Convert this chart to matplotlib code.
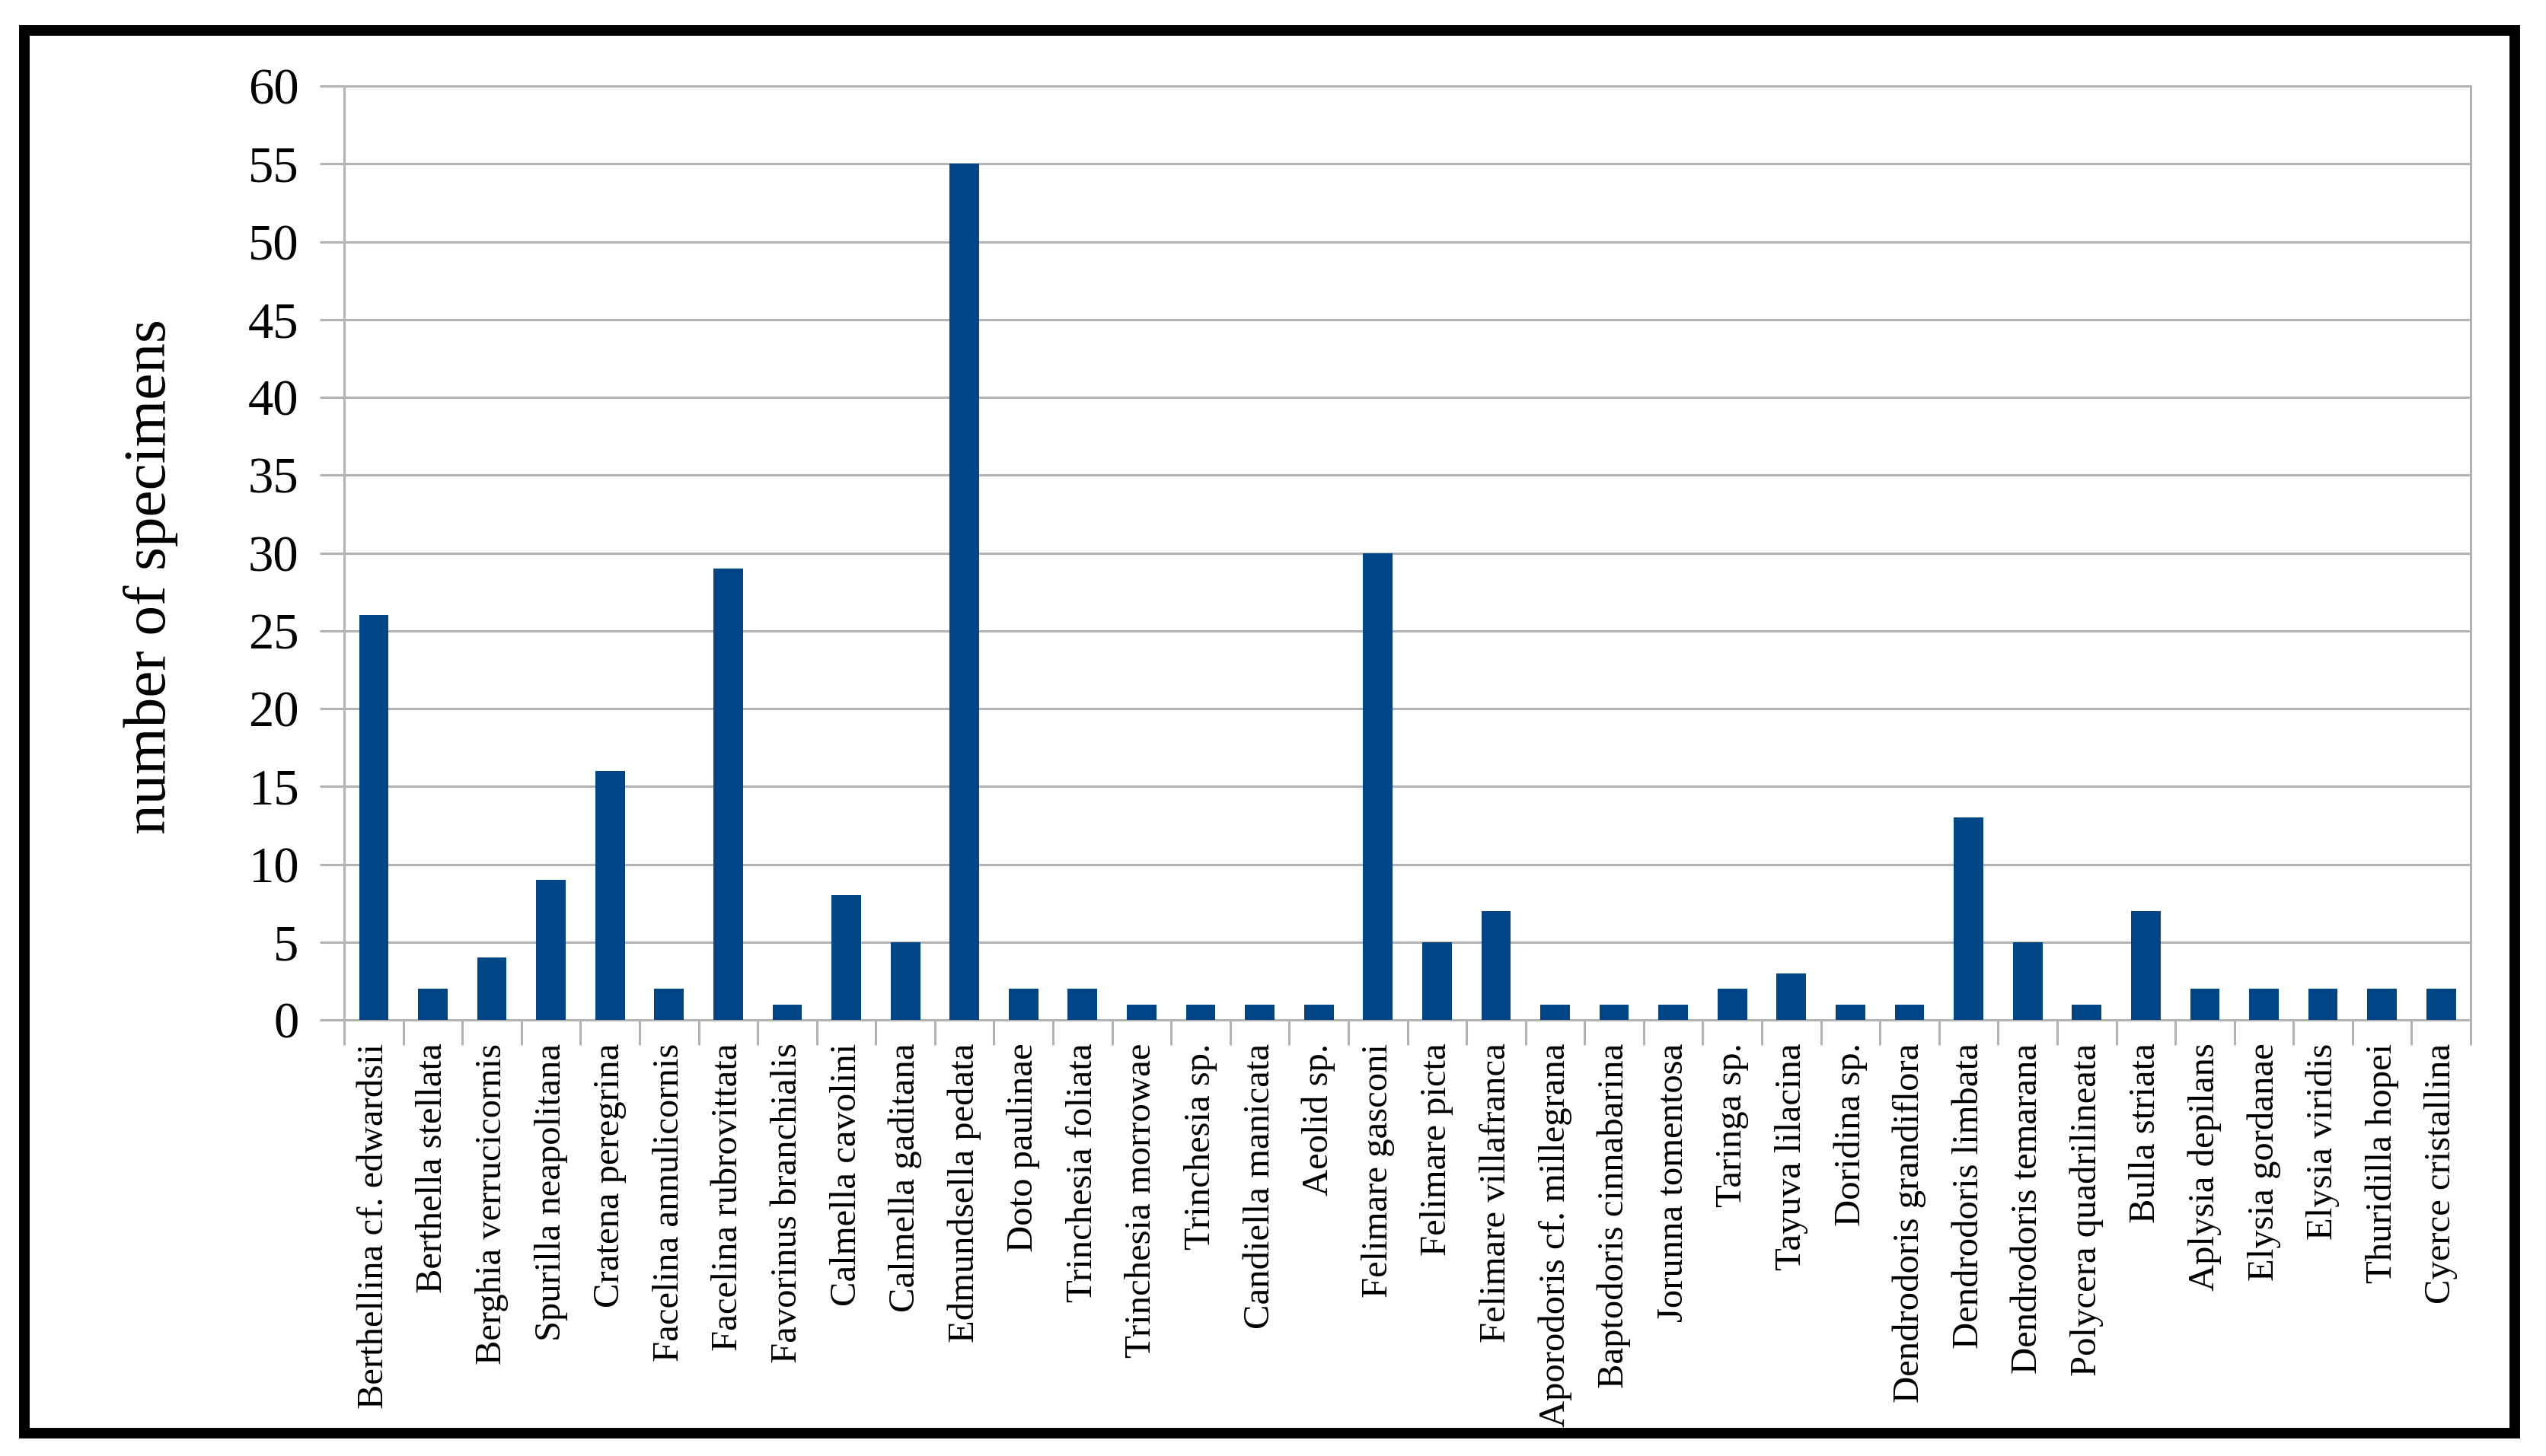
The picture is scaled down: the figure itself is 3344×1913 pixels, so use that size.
import matplotlib
matplotlib.use('Agg')
import matplotlib.pyplot as plt
from matplotlib.patches import Rectangle
import numpy as np

species = ['Berthellina cf. edwardsii', 'Berthella stellata', 'Berghia verrucicornis',
           'Spurilla neapolitana', 'Cratena peregrina', 'Facelina annulicornis',
           'Facelina rubrovittata', 'Favorinus branchialis', 'Calmella cavolini',
           'Calmella gaditana', 'Edmundsella pedata', 'Doto paulinae',
           'Trinchesia foliata', 'Trinchesia morrowae', 'Trinchesia sp.',
           'Candiella manicata', 'Aeolid sp.', 'Felimare gasconi', 'Felimare picta',
           'Felimare villafranca', 'Aporodoris cf. millegrana', 'Baptodoris cinnabarina',
           'Jorunna tomentosa', 'Taringa sp.', 'Tayuva lilacina', 'Doridina sp.',
           'Dendrodoris grandiflora', 'Dendrodoris limbata', 'Dendrodoris temarana',
           'Polycera quadrilineata', 'Bulla striata', 'Aplysia depilans',
           'Elysia gordanae', 'Elysia viridis', 'Thuridilla hopei', 'Cyerce cristallina']
counts = [26, 2, 4, 9, 16, 2, 29, 1, 8, 5, 55, 2, 2, 1, 1, 1, 1, 30, 5, 7,
          1, 1, 1, 2, 3, 1, 1, 13, 5, 1, 7, 2, 2, 2, 2, 2]
yticks = list(range(0, 61, 5))

grey = '#b3b3b3'
serif = 'Liberation Serif'
fig = plt.figure(figsize=(33.44, 19.13), dpi=100)
ax = fig.add_axes([0.1352, 0.2995, 0.9704 - 0.1352, 0.9409 - 0.2995])

x = np.arange(len(species))
ax.bar(x, counts, width=0.5, color='#004586', zorder=3)

ax.set_xlim(-0.5, len(species) - 0.5)
ax.set_ylim(0, 60)
ax.set_yticks(yticks)
ax.set_yticklabels([str(v) for v in yticks], fontfamily=serif, fontsize=48)
ax.yaxis.grid(True, color=grey, linewidth=2.2, zorder=0)

ax.set_xticks(x)
ax.set_xticklabels(species, rotation=90, fontfamily=serif, fontsize=35, va='top')
ax.set_xticks(np.arange(len(species) + 1) - 0.5, minor=True)
ax.tick_params(axis='x', which='major', length=0, pad=22)
ax.tick_params(axis='x', which='minor', length=24, width=2.2, color=grey, direction='out')
ax.tick_params(axis='y', length=23, width=2.2, color=grey, pad=20)

for s in ax.spines.values():
    s.set_color(grey)
    s.set_linewidth(2.2)

ax.set_ylabel('number of specimens', fontfamily=serif, fontsize=57)
ax.yaxis.set_label_coords(-0.078, 0.475)

# black frame around the whole picture
fig.patches.append(Rectangle((0.0096, 0.0157), 0.9877 - 0.0096, 0.9791 - 0.0157,
                             transform=fig.transFigure, fill=False,
                             edgecolor='black', linewidth=10))

fig.savefig('out.png', dpi=100)
